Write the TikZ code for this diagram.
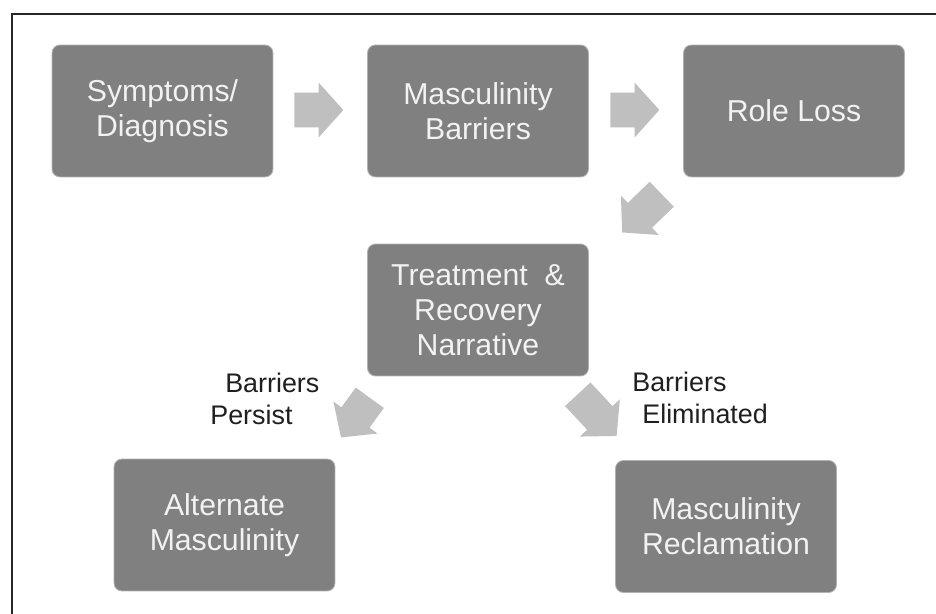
\documentclass[tikz,border=0pt]{standalone}
\usepackage{fontspec}
\setmainfont{Liberation Sans}
\usepackage{tikz}
\usetikzlibrary{shapes.arrows}

\begin{document}
\begin{tikzpicture}[x=0.02cm, y=-0.02cm,
  box/.style={draw=black!30, line width=0.5pt, fill=black!50, rounded corners=4.5pt,
    minimum width=4.42cm, minimum height=2.64cm, align=center, text=white!95!black,
    font=\fontsize{17.2}{19.8}\selectfont},
  flow/.style={single arrow, fill=black!25, draw=none, inner xsep=0pt, inner ysep=0.34cm,
    anchor=tail, minimum height=0.98cm, single arrow head extend=0.2cm, single arrow tip angle=96},
  lbl/.style={align=left, inner sep=0pt, text=black!88,
    font=\fontsize{15.3}{18.1}\selectfont}]
  \useasboundingbox (0,0) rectangle (936,614);
  \draw[line width=1.1pt, black!85] (12,614) -- (12,14) -- (936,14);

  % top row
  \node[box] (symp) at (162.5,111) {Symptoms/\\Diagnosis};
  \node[box] (barr) at (478,111) {Masculinity\\Barriers};
  \node[box] (role) at (794,111) {Role Loss};
  % middle and bottom
  \node[box] (treat) at (478,310) {Treatment\ \ \&\\Recovery\\Narrative};
  \node[box] (alt) at (224.5,525) {Alternate\\Masculinity};
  \node[box] (recl) at (726,526.5) {Masculinity\\Reclamation};

  % block arrows, placed by their tails
  \node[flow] (a1) at (294,110) {};
  \node[flow] (a2) at (610,110) {};
  \node[flow, rotate=-136, minimum height=1.1cm] (a3) at (662,194) {};
  \node[flow, rotate=-126] (a4) at (370,397.5) {};
  \node[flow, rotate=-47, minimum height=1.14cm] (a5) at (577.5,394) {};

  \node[lbl, anchor=north west] (persist) at (210,373) {\hspace*{8.5pt}Barriers\\Persist};
  \node[lbl, anchor=north west] (elim) at (632,372) {Barriers\\\hspace*{5.7pt}Eliminated};
\end{tikzpicture}
\end{document}
